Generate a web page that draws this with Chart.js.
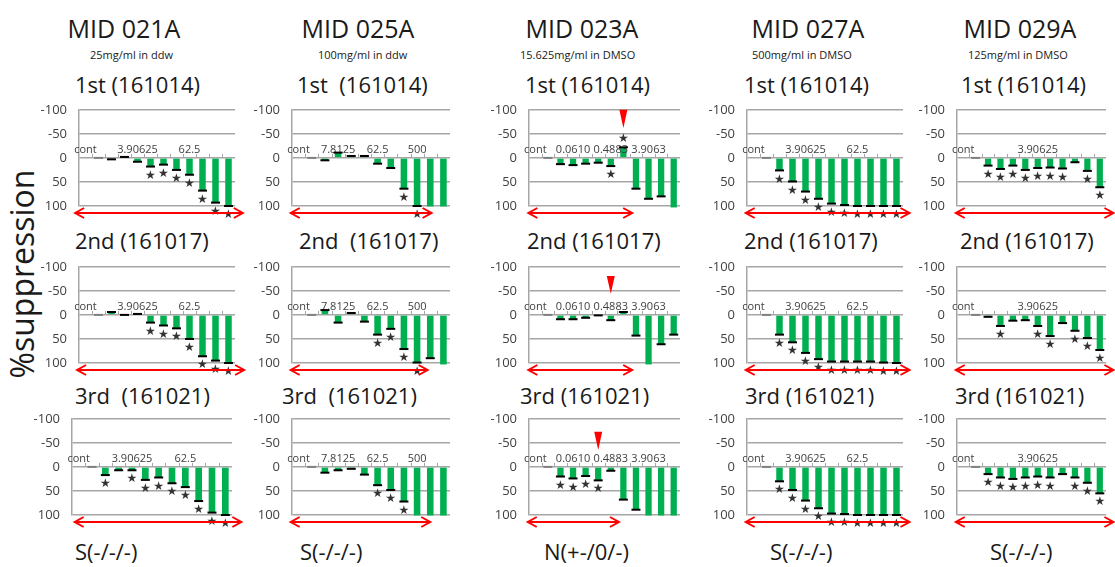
<!DOCTYPE html>
<html>
<head>
<meta charset="utf-8">
<script src="https://cdn.jsdelivr.net/npm/chart.js@4.4.1/dist/chart.umd.min.js"></script>
<style>
  body { margin: 0; background: #fff; font-family: "Open Sans", sans-serif; color: #1a1a1a; }
  #wrap { position: relative; width: 1115px; height: 567px; overflow: hidden; }
  .t { position: absolute; white-space: pre; line-height: 1; }
  .cmp { font-size: 25px; transform: translate(-50%, -50%); }
  .sub { font-size: 11px; transform: translateY(-50%); }
  .run { font-size: 22px; transform: translateY(-50%); }
  .res { font-size: 22px; transform: translateY(-50%); }
  .ylab { font-size: 32px; transform: translate(-50%, -50%) rotate(-90deg); }
  .panel { position: absolute; }
</style>
</head>
<body>
<div id="wrap"></div>
<script>
// --- data ---
const compounds = ['MID 021A', 'MID 025A', 'MID 023A', 'MID 027A', 'MID 029A'];
const solvents = ['25mg/ml in ddw', '100mg/ml in ddw', '15.625mg/ml in DMSO', '500mg/ml in DMSO', '125mg/ml in DMSO'];
const verdicts = ['S(-/-/-)', 'S(-/-/-)', 'N(+-/0/-)', 'S(-/-/-)', 'S(-/-/-)'];
const runs = [
  ['1st (161014)', '2nd (161017)', '3rd  (161021)'],
  ['1st  (161014)', '2nd  (161017)', '3rd  (161021)'],
  ['1st (161014)', '2nd (161017)', '3rd (161021)'],
  ['1st (161014)', '2nd (161017)', '3rd (161021)'],
  ['1st (161014)', '2nd (161017)', '3rd (161021)']
];

// concentration labels (first slot carries "cont")
const lbl021 = ['cont', '', '', '', '3.90625', '', '', '', '62.5', '', '', ''];
const lbl025 = ['cont', '', '', '7.8125', '', '', '62.5', '', '', '500', '', ''];
const lbl023 = ['cont', '', '', '0.0610', '', '', '0.4883', '', '', '3.9063', '', ''];
const lbl027 = ['cont', '', '', '', '3.90625', '', '', '', '62.5', '', '', ''];
const lbl029 = ['cont', '', '', '', '', '', '3.90625', '', '', '', '', ''];

// %suppression (positive = down). values above 100 are drawn without a cap
const v021_1 = [null, 0, 3, -2, 8, 18, 14, 25, 35, 68, 93, 100];
const v021_2 = [null, 0, -6, 0, -2, 16, 22, 28, 50, 86, 95, 100];
const v021_3 = [null, 0, 17, 7, 7, 27, 22, 34, 42, 71, 95, 100];
const v025_1 = [null, 0, 5, -11, -4, -4, 12, 21, 64, 100, 101, 101];
const v025_2 = [null, 0, -10, 16, -4, 14, 41, 29, 71, 99, 90, 103];
const v025_3 = [null, 0, 12, 7, 4, 16, 38, 48, 72, 101, 101, 101];
const v023_1 = [null, 0, 13, 15, 12, 10, 17, -22, 64, 85, 80, 103];
const v023_2 = [null, 0, 9, 9, 6, 1, 11, -6, 43, 103, 61, 41];
const v023_3 = [null, 0, 20, 24, 19, 28, 8, 68, 89, 101, 101, 101];
const v027_1 = [null, 0, 26, 49, 70, 85, 95, 98, 100, 100, 100, 100];
const v027_2 = [null, 0, 41, 57, 79, 92, 97, 97, 97, 97, 99, 100];
const v027_3 = [null, 0, 30, 48, 70, 86, 97, 98, 100, 100, 100, 100];
const v029_1 = [null, 0, 16, 23, 16, 25, 21, 20, 22, 9, 27, 61];
const v029_2 = [null, 0, 4, 23, 12, 11, 23, 44, 17, 33, 48, 73];
const v029_3 = [null, 0, 15, 22, 25, 22, 20, 22, 15, 22, 33, 55];

// significant points (index of bar)
const s021_1 = [5, 6, 7, 8, 9, 10, 11];
const s021_2 = [5, 6, 7, 8, 9, 10, 11];
const s021_3 = [2, 4, 5, 6, 7, 8, 9, 10, 11];
const s025_1 = [8, 9];
const s025_2 = [6, 7, 8, 9];
const s025_3 = [6, 7, 8];
const s023_1 = [6, 7];
const s023_2 = [];
const s023_3 = [2, 3, 4, 5];
const s027_1 = [2, 3, 4, 5, 6, 7, 8, 9, 10, 11];
const s027_2 = [2, 3, 4, 5, 6, 7, 8, 9, 10, 11];
const s027_3 = [2, 3, 4, 5, 6, 7, 8, 9, 10, 11];
const s029_1 = [2, 3, 4, 5, 6, 7, 8, 10, 11];
const s029_2 = [3, 6, 7, 9, 10, 11];
const s029_3 = [2, 3, 4, 5, 6, 7, 9, 10, 11];

// red range arrows (in category units) and the red marker for MID 023A
const arrows = [
  [[-0.8, 12.1], [-0.65, 12.2], [-0.3, 12.2]],
  [[-0.6, 10.1], [-0.6, 9.8], [-0.6, 10.0]],
  [[-0.55, 7.7], [-0.55, 7.7], [-0.6, 6.65]],
  [[-0.6, 12.0], [-0.6, 12.0], [-0.6, 12.0]],
  [[-0.6, 12.1], [-0.6, 12.1], [-0.6, 12.1]]
];
const triIndex = [7, 6, 5];
const triTop = [-100, -81, -73];
const triTip = [-62, -44, -35];

const labels = [lbl021, lbl025, lbl023, lbl027, lbl029];
const values = [[v021_1, v021_2, v021_3], [v025_1, v025_2, v025_3], [v023_1, v023_2, v023_3], [v027_1, v027_2, v027_3], [v029_1, v029_2, v029_3]];
const stars = [[s021_1, s021_2, s021_3], [s025_1, s025_2, s025_3], [s023_1, s023_2, s023_3], [s027_1, s027_2, s027_3], [s029_1, s029_2, s029_3]];

// --- layout ---
const colEdges = [[79, 235], [292, 450], [529, 680], [747, 903], [957, 1106]];
const rowEdges = [[102, 206], [259, 363], [411, 515]];
const titleX = [124, 358, 582, 808, 1020];
const subX = [90, 318, 520, 752, 968];
const runX = [[75, 75, 75], [297, 299, 282], [525, 527, 520], [744, 744, 745], [961, 960, 955]];
const runY = [84, 240, 395];
const resX = [75, 300, 544, 770, 990];

const wrap = document.getElementById('wrap');
function addText(cls, txt, x, y) {
  const d = document.createElement('div');
  d.className = 't ' + cls;
  d.textContent = txt;
  d.style.left = x + 'px';
  d.style.top = y + 'px';
  wrap.appendChild(d);
}

compounds.forEach((c, i) => {
  addText('cmp', c, titleX[i], 28);
  addText('sub', solvents[i], subX[i], 54);
  addText('res', verdicts[i], resX[i], 551);
  runs[i].forEach((r, j) => addText('run', r, runX[i][j], runY[j]));
});
addText('ylab', '%suppression', 22, 274);

const marks = {
  id: 'marks',
  afterDatasetsDraw(chart, args, opts) {
    const ctx = chart.ctx;
    const xs = chart.scales.x, ys = chart.scales.y, area = chart.chartArea;
    const data = chart.data.datasets[0].data;
    const meta = chart.getDatasetMeta(0);
    const y0 = ys.getPixelForValue(0);
    ctx.save();

    // small ticks on the zero line
    ctx.strokeStyle = '#a6a6a6';
    ctx.lineWidth = 1;
    for (let i = 1; i < data.length; i++) {
      const x = Math.round(xs.getPixelForValue(i - 0.5)) + 0.5;
      ctx.beginPath();
      ctx.moveTo(x, y0);
      ctx.lineTo(x, y0 - 4);
      ctx.stroke();
    }

    // concentration labels above the zero line
    ctx.fillStyle = '#404040';
    ctx.font = '11px "Open Sans"';
    ctx.textAlign = 'center';
    ctx.textBaseline = 'bottom';
    chart.data.labels.forEach((l, i) => {
      if (l) ctx.fillText(l, xs.getPixelForValue(i), y0 - 3);
    });

    // caps at the bar ends
    meta.data.forEach((bar, i) => {
      const v = data[i];
      if (v === null || v > 100) return;
      ctx.fillStyle = i === 1 ? '#808080' : '#000';
      ctx.fillRect(bar.x - 4.5, bar.y - 1, 9, 2);
    });

    // stars
    ctx.fillStyle = '#333';
    ctx.font = '12px "DejaVu Sans"';
    ctx.textBaseline = 'middle';
    opts.stars.forEach(i => {
      const bar = meta.data[i];
      const dy = data[i] < 0 ? -8 : 9;
      ctx.fillText('\u2605', bar.x, bar.y + dy);
    });

    // red range arrow
    const ay = area.bottom + 7;
    const ax1 = xs.getPixelForValue(opts.arrow[0]);
    const ax2 = xs.getPixelForValue(opts.arrow[1]);
    ctx.strokeStyle = '#ff0000';
    ctx.lineWidth = 2;
    ctx.beginPath();
    ctx.moveTo(ax1, ay); ctx.lineTo(ax2, ay);
    ctx.moveTo(ax1 + 9, ay - 5); ctx.lineTo(ax1, ay); ctx.lineTo(ax1 + 9, ay + 5);
    ctx.moveTo(ax2 - 9, ay - 5); ctx.lineTo(ax2, ay); ctx.lineTo(ax2 - 9, ay + 5);
    ctx.stroke();

    // red marker triangle
    if (opts.tri) {
      const tx = xs.getPixelForValue(opts.tri[0]);
      const t1 = ys.getPixelForValue(opts.tri[1]);
      const t2 = ys.getPixelForValue(opts.tri[2]);
      ctx.fillStyle = '#ff0000';
      ctx.beginPath();
      ctx.moveTo(tx - 4, t1); ctx.lineTo(tx + 4, t1); ctx.lineTo(tx, t2);
      ctx.closePath();
      ctx.fill();
    }
    ctx.restore();
  }
};

const PADL = 50, PADT = 12, PADR = 14, PADB = 26;

for (let c = 0; c < 5; c++) {
  for (let r = 0; r < 3; r++) {
    let [xl, xr] = colEdges[c];
    if (c === 0 && r === 2) { xl = 72; xr = 232; }
    const [yt, yb] = rowEdges[r];
    const box = document.createElement('div');
    box.className = 'panel';
    box.style.left = (xl - PADL) + 'px';
    box.style.top = (yt - PADT) + 'px';
    box.style.width = (xr - xl + PADL + PADR) + 'px';
    box.style.height = (yb - yt + PADT + PADB) + 'px';
    const cv = document.createElement('canvas');
    box.appendChild(cv);
    wrap.appendChild(box);

    new Chart(cv, {
      type: 'bar',
      data: {
        labels: labels[c],
        datasets: [{
          data: values[c][r],
          backgroundColor: '#00b050',
          categoryPercentage: 1,
          barPercentage: 0.5,
          clip: false
        }]
      },
      options: {
        responsive: true,
        maintainAspectRatio: false,
        animation: false,
        layout: { padding: { top: PADT, bottom: PADB, right: PADR, left: 0 } },
        plugins: {
          legend: { display: false },
          tooltip: { enabled: false },
          marks: {
            stars: stars[c][r],
            arrow: arrows[c][r],
            tri: c === 2 ? [triIndex[r], triTop[r], triTip[r]] : null
          }
        },
        scales: {
          x: { display: false },
          y: {
            min: -100, max: 100, reverse: true,
            afterFit(s) { s.width = PADL; },
            ticks: { stepSize: 50, color: '#404040', font: { size: 13, family: '"Open Sans"' }, padding: 12 },
            grid: { color: '#a6a6a6', lineWidth: 1.5, drawTicks: false },
            border: { color: '#a6a6a6', width: 1.5 }
          }
        }
      },
      plugins: [marks]
    });
  }
}
</script>
</body>
</html>
